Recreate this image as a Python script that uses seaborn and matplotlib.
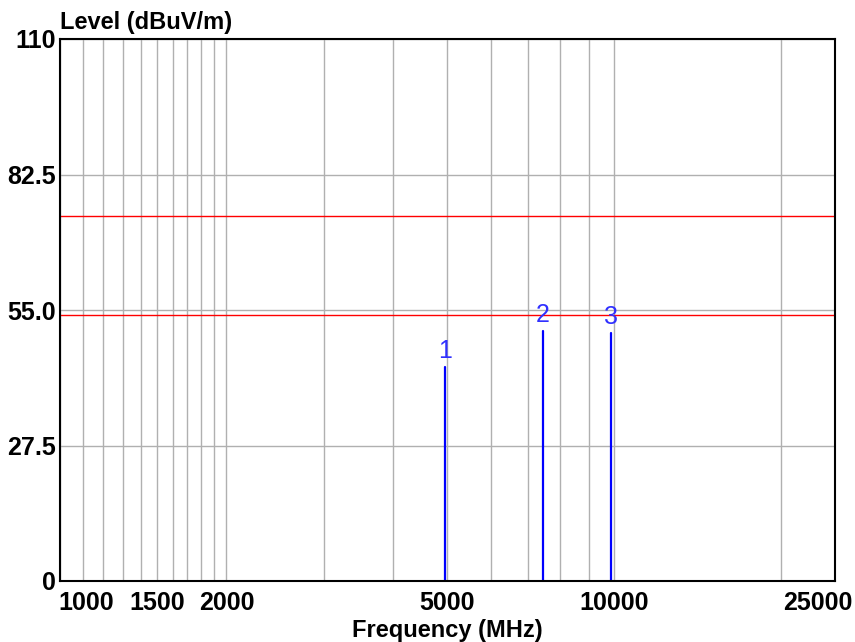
import numpy as np
import pandas as pd
import matplotlib
matplotlib.use('Agg')
import matplotlib.pyplot as plt
import matplotlib.transforms as mtrans
from matplotlib.ticker import NullFormatter
import seaborn as sns

# ---- data ----
marker_ids = ['1', '2', '3']
marker_freq_mhz = [4950, 7440, 9880]
marker_level = [43.5, 50.8, 50.4]
limit_levels = [74, 54]
x_tick_values = [1000, 1500, 2000, 5000, 10000, 25000]
x_tick_labels = ['1000', '1500', '2000', '5000', '10000', '25000']
x_grid_values = [1100, 1200, 1300, 1400, 1600, 1700, 1800, 1900,
                 3000, 4000, 6000, 7000, 8000, 9000, 20000]
y_tick_values = [0, 27.5, 55.0, 82.5, 110]
y_tick_labels = ['0', '27.5', '55.0', '82.5', '110']

sns.set_theme(style='white')
plt.rcParams['font.family'] = ['Liberation Sans', 'DejaVu Sans']

W, H = 855, 642
fig = plt.figure(figsize=(W / 100, H / 100), dpi=100)
fig.patch.set_facecolor('white')
left, right, top, bottom = 59.6, 834.5, 39, 581
ax = fig.add_axes([left / W, 1 - bottom / H, (right - left) / W, (bottom - top) / H])
ax.set_facecolor('white')
ax.set_xscale('log')

rows = []
for m, f, lv in zip(marker_ids, marker_freq_mhz, marker_level):
    rows.append({'marker': m, 'freq': f, 'level': 0.0})
    rows.append({'marker': m, 'freq': f, 'level': lv})
df = pd.DataFrame(rows)
sns.lineplot(data=df, x='freq', y='level', units='marker', estimator=None,
             sort=False, color='#0000ff', lw=1.6, ax=ax, legend=False, zorder=4)

for lv in limit_levels:
    ax.axhline(lv, color='#ff0000', lw=1.0, zorder=3)

for m, f, lv in zip(marker_ids, marker_freq_mhz, marker_level):
    ax.annotate(m, xy=(f, lv), xytext=(0, 9), textcoords='offset pixels',
                ha='center', va='baseline', color='#3030ff', fontsize=18)

ax.set_xlim(1000, 25000)
ax.set_ylim(0, 110)
ax.set_xticks(x_tick_values, x_tick_labels)
ax.set_xticks(x_grid_values, minor=True)
ax.xaxis.set_minor_formatter(NullFormatter())
ax.set_yticks(y_tick_values, y_tick_labels)
ax.grid(True, which='both', axis='x', color='#b0b0b0', lw=1.0, zorder=1)
ax.grid(True, which='major', axis='y', color='#b0b0b0', lw=1.0, zorder=1)
ax.tick_params(axis='both', which='both', length=0, labelsize=18, colors='black')
ax.tick_params(axis='x', pad=7)
ax.tick_params(axis='y', pad=3)
for lbl in ax.get_xticklabels() + ax.get_yticklabels():
    lbl.set_fontweight('bold')

for sp in ax.spines.values():
    sp.set_visible(True)
    sp.set_color('black')
    sp.set_linewidth(1.5)
    sp.set_zorder(5)

# shift edge labels as in reference
for lbl in ax.get_xticklabels():
    t = lbl.get_text()
    if t == '1000':
        lbl.set_transform(lbl.get_transform() + mtrans.ScaledTranslation(26.5 / 100, 0, fig.dpi_scale_trans))
    elif t == '25000':
        lbl.set_transform(lbl.get_transform() + mtrans.ScaledTranslation(-16.5 / 100, 0, fig.dpi_scale_trans))

ax.set_xlabel('Frequency (MHz)', fontsize=17, fontweight='bold', labelpad=3, color='black')
ax.set_ylabel('Level (dBuV/m)', fontsize=17, fontweight='bold', rotation=0,
              ha='left', va='baseline', color='black')
ax.yaxis.set_label_coords(0.0, 1.0 + 9.5 / (bottom - top))

fig.savefig('out.png', dpi=100)
